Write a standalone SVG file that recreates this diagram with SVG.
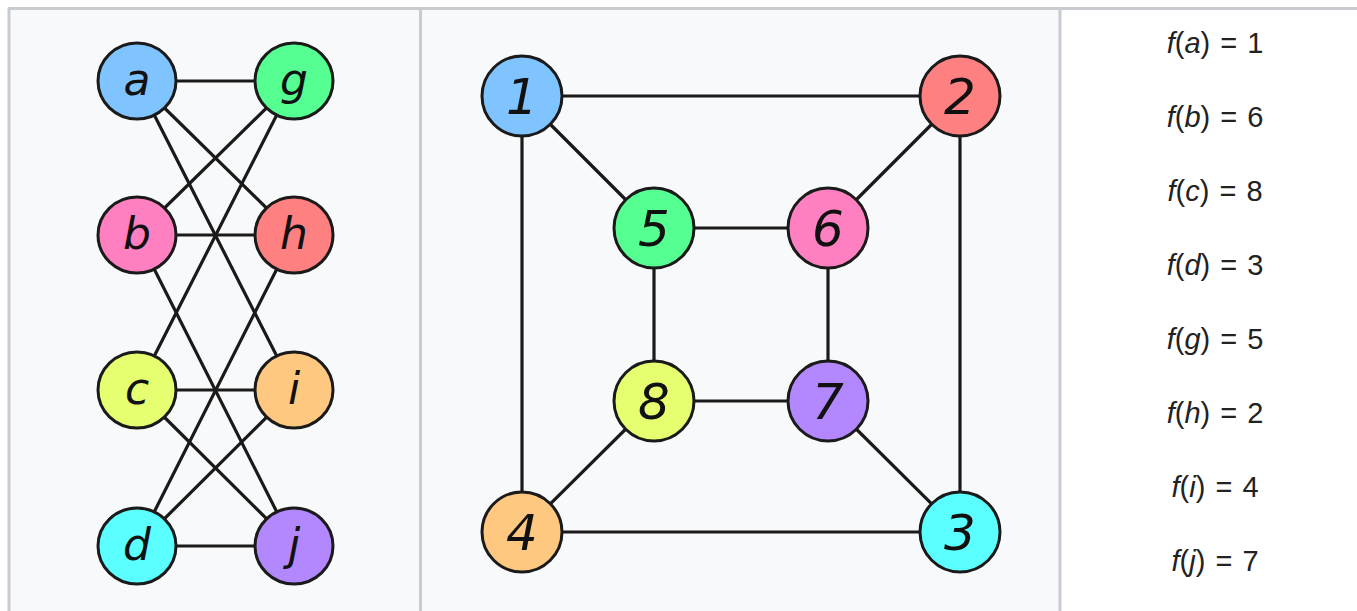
<svg xmlns="http://www.w3.org/2000/svg" width="1357" height="611" viewBox="0 0 1357 611">
  <style>
    .panel { fill: #f8f9fa; }
    .rule { stroke: #c8ccd1; stroke-width: 3; fill: none; }
    .edge { stroke: #1a1a1a; stroke-width: 3.2; stroke-linecap: round; }
    .node { stroke: #1a1a1a; stroke-width: 3; }
    .lbl { font-family: "DejaVu Sans", sans-serif; font-style: italic; fill: #111; text-anchor: middle; }
    .lbl-s { font-size: 44px; }
    .lbl-n { font-size: 50px; }
    .map { font-family: "Liberation Sans", Arial, sans-serif; font-size: 29px; fill: #222; text-anchor: middle; word-spacing: 2px; }
    .map .it { font-style: italic; }
    .c-blue { fill: #7fc4ff; }
    .c-green { fill: #55ff92; }
    .c-pink { fill: #ff80c0; }
    .c-red { fill: #ff8080; }
    .c-yellow { fill: #e6ff70; }
    .c-orange { fill: #ffc880; }
    .c-cyan { fill: #5cffff; }
    .c-purple { fill: #b388ff; }
  </style>

  <!-- frame -->
  <rect x="0" y="0" width="1357" height="611" fill="#ffffff"/>
  <rect class="panel" x="9" y="9" width="411" height="602"/>
  <rect class="panel" x="421" y="9" width="639" height="602"/>
  <line class="rule" x1="8" y1="8.5" x2="1357" y2="8.5"/>
  <line class="rule" x1="9" y1="8" x2="9" y2="611"/>
  <line class="rule" x1="420.5" y1="8" x2="420.5" y2="611"/>
  <line class="rule" x1="1060" y1="8" x2="1060" y2="611"/>

  <!-- bipartite graph G: edges -->
  <g id="edges-g">
    <line class="edge" x1="137" y1="81" x2="294" y2="81"/>
    <line class="edge" x1="137" y1="81" x2="294" y2="235"/>
    <line class="edge" x1="137" y1="81" x2="294" y2="390"/>
    <line class="edge" x1="137" y1="235" x2="294" y2="81"/>
    <line class="edge" x1="137" y1="235" x2="294" y2="235"/>
    <line class="edge" x1="137" y1="235" x2="294" y2="546"/>
    <line class="edge" x1="137" y1="390" x2="294" y2="81"/>
    <line class="edge" x1="137" y1="390" x2="294" y2="390"/>
    <line class="edge" x1="137" y1="390" x2="294" y2="546"/>
    <line class="edge" x1="137" y1="546" x2="294" y2="235"/>
    <line class="edge" x1="137" y1="546" x2="294" y2="390"/>
    <line class="edge" x1="137" y1="546" x2="294" y2="546"/>
  </g>

  <g id="node-a"><ellipse class="node c-blue" cx="137" cy="81" rx="39" ry="38"/><text class="lbl lbl-s" x="137" y="95">a</text></g>
  <g id="node-b"><ellipse class="node c-pink" cx="137" cy="235" rx="39" ry="38"/><text class="lbl lbl-s" x="137" y="249">b</text></g>
  <g id="node-c"><ellipse class="node c-yellow" cx="137" cy="390" rx="39" ry="38"/><text class="lbl lbl-s" x="137" y="404">c</text></g>
  <g id="node-d"><ellipse class="node c-cyan" cx="137" cy="546" rx="39" ry="38"/><text class="lbl lbl-s" x="137" y="560">d</text></g>
  <g id="node-g"><ellipse class="node c-green" cx="294" cy="81" rx="39" ry="38"/><text class="lbl lbl-s" x="294" y="95">g</text></g>
  <g id="node-h"><ellipse class="node c-red" cx="294" cy="235" rx="39" ry="38"/><text class="lbl lbl-s" x="294" y="249">h</text></g>
  <g id="node-i"><ellipse class="node c-orange" cx="294" cy="390" rx="39" ry="38"/><text class="lbl lbl-s" x="294" y="404">i</text></g>
  <g id="node-j"><ellipse class="node c-purple" cx="294" cy="546" rx="39" ry="38"/><text class="lbl lbl-s" x="294" y="560">j</text></g>

  <!-- cube graph H: edges -->
  <g id="edges-h">
    <line class="edge" x1="522" y1="96" x2="960" y2="96"/>
    <line class="edge" x1="522" y1="96" x2="654" y2="228"/>
    <line class="edge" x1="522" y1="96" x2="522" y2="532"/>
    <line class="edge" x1="960" y1="96" x2="828" y2="228"/>
    <line class="edge" x1="960" y1="96" x2="960" y2="532"/>
    <line class="edge" x1="654" y1="228" x2="828" y2="228"/>
    <line class="edge" x1="654" y1="228" x2="654" y2="401"/>
    <line class="edge" x1="828" y1="228" x2="828" y2="401"/>
    <line class="edge" x1="654" y1="401" x2="828" y2="401"/>
    <line class="edge" x1="654" y1="401" x2="522" y2="532"/>
    <line class="edge" x1="828" y1="401" x2="960" y2="532"/>
    <line class="edge" x1="522" y1="532" x2="960" y2="532"/>
  </g>

  <g id="node-1"><ellipse class="node c-blue" cx="522" cy="96" rx="40" ry="40"/><text class="lbl lbl-n" x="522" y="114">1</text></g>
  <g id="node-2"><ellipse class="node c-red" cx="960" cy="96" rx="40" ry="40"/><text class="lbl lbl-n" x="960" y="114">2</text></g>
  <g id="node-5"><ellipse class="node c-green" cx="654" cy="228" rx="40" ry="40"/><text class="lbl lbl-n" x="654" y="246">5</text></g>
  <g id="node-6"><ellipse class="node c-pink" cx="828" cy="228" rx="40" ry="40"/><text class="lbl lbl-n" x="828" y="246">6</text></g>
  <g id="node-8"><ellipse class="node c-yellow" cx="654" cy="401" rx="40" ry="40"/><text class="lbl lbl-n" x="654" y="419">8</text></g>
  <g id="node-7"><ellipse class="node c-purple" cx="828" cy="401" rx="40" ry="40"/><text class="lbl lbl-n" x="828" y="419">7</text></g>
  <g id="node-4"><ellipse class="node c-orange" cx="522" cy="532" rx="40" ry="40"/><text class="lbl lbl-n" x="522" y="550">4</text></g>
  <g id="node-3"><ellipse class="node c-cyan" cx="960" cy="532" rx="40" ry="40"/><text class="lbl lbl-n" x="960" y="550">3</text></g>

  <!-- the bijection f -->
  <g id="mapping">
    <text class="map" x="1215" y="53"><tspan class="it">f</tspan>(<tspan class="it">a</tspan>) = 1</text>
    <text class="map" x="1215" y="127"><tspan class="it">f</tspan>(<tspan class="it">b</tspan>) = 6</text>
    <text class="map" x="1215" y="201"><tspan class="it">f</tspan>(<tspan class="it">c</tspan>) = 8</text>
    <text class="map" x="1215" y="275"><tspan class="it">f</tspan>(<tspan class="it">d</tspan>) = 3</text>
    <text class="map" x="1215" y="349"><tspan class="it">f</tspan>(<tspan class="it">g</tspan>) = 5</text>
    <text class="map" x="1215" y="423"><tspan class="it">f</tspan>(<tspan class="it">h</tspan>) = 2</text>
    <text class="map" x="1215" y="497"><tspan class="it">f</tspan>(<tspan class="it">i</tspan>) = 4</text>
    <text class="map" x="1215" y="571"><tspan class="it">f</tspan>(<tspan class="it">j</tspan>) = 7</text>
  </g>
</svg>
